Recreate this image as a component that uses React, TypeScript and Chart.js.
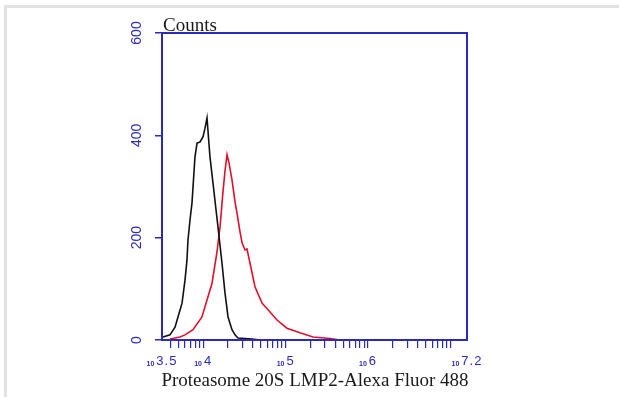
import React, { useEffect, useRef } from "react";
import { Chart, registerables } from "chart.js";

Chart.register(...registerables);

// Fluorescence intensity, as log10 exponents
const blackLogX = [3.512, 3.597, 3.658, 3.694, 3.743, 3.779, 3.803, 3.815, 3.84, 3.864, 3.9, 3.925, 3.961, 3.997, 4.022, 4.046, 4.082, 4.119, 4.179, 4.228, 4.264, 4.301, 4.349, 4.386, 4.422, 4.507, 4.592, 4.69];
const blackCounts = [6, 10, 25, 45, 72, 117, 156, 195, 235, 268, 358, 385, 387, 397, 414, 434, 358, 306, 221, 150, 92, 45, 20, 10, 4, 3, 2, 0];

const redLogX = [3.597, 3.718, 3.779, 3.876, 3.985, 4.046, 4.107, 4.167, 4.204, 4.24, 4.264, 4.289, 4.313, 4.349, 4.386, 4.41, 4.446, 4.471, 4.507, 4.531, 4.568, 4.628, 4.713, 4.786, 4.895, 5.016, 5.174, 5.332, 5.538, 5.66];
const redCounts = [2, 6, 10, 20, 45, 78, 111, 172, 221, 290, 330, 362, 346, 313, 270, 248, 212, 190, 176, 178, 150, 104, 72, 59, 39, 23, 14, 6, 3, 0];

const xLabelExponents = ["3.5", "4", "5", "6", "7.2"];
const yTickValues = [0, 200, 400, 600];
const xMinExp = 3.5;
const xMaxExp = 7.2;

const yTitle = "Counts";
const xTitle = "Proteasome 20S LMP2-Alexa Fluor 488";

const BLUE = "#2b2bb8";

export default function App() {
  const ref = useRef<HTMLCanvasElement | null>(null);

  useEffect(() => {
    document.body.style.margin = "0";
    const canvas = ref.current!;
    const framePlugin = {
      id: "frame",
      beforeDraw(chart: any) {
        const { ctx, width, height } = chart;
        ctx.save();
        ctx.fillStyle = "#ffffff";
        ctx.fillRect(0, 0, width, height);
        ctx.fillStyle = "#e2e2e2";
        ctx.fillRect(4, 5, width - 4, 3);
        ctx.fillRect(4, 5, 3, height - 5);
        ctx.restore();
      },
      afterDraw(chart: any) {
        const { ctx, chartArea } = chart;
        const xs = chart.scales.x;
        const ys = chart.scales.y;
        ctx.save();
        ctx.strokeStyle = BLUE;
        ctx.lineWidth = 2;
        ctx.strokeRect(chartArea.left, chartArea.top, chartArea.right - chartArea.left, chartArea.bottom - chartArea.top);

        // x tick labels: small "10" followed by exponent
        ctx.fillStyle = BLUE;
        ctx.textBaseline = "alphabetic";
        ctx.textAlign = "left";
        const smallFont = "bold 7px 'Liberation Sans', Arial, sans-serif";
        const expFont = "13px 'Liberation Sans', Arial, sans-serif";
        for (const e of xLabelExponents) {
          const px = xs.getPixelForValue(Math.pow(10, parseFloat(e)));
          ctx.font = smallFont;
          const w1 = ctx.measureText("10").width;
          ctx.font = expFont;
          let w2 = 0;
          for (const ch of e) w2 += ctx.measureText(ch).width + 1;
          const gap = 2;
          const start = px - (w1 + gap + w2) / 2;
          ctx.font = smallFont;
          ctx.fillText("10", start, 366);
          ctx.font = expFont;
          let cx = start + w1 + gap;
          for (const ch of e) {
            ctx.fillText(ch, cx, 365);
            cx += ctx.measureText(ch).width + 1;
          }
        }

        // y tick labels rotated
        ctx.font = "14px 'Liberation Sans', Arial, sans-serif";
        ctx.textAlign = "center";
        ctx.textBaseline = "middle";
        for (const v of yTickValues) {
          const py = ys.getPixelForValue(v);
          ctx.save();
          ctx.translate(137.5, py);
          ctx.rotate(-Math.PI / 2);
          ctx.fillText(String(v), 0, 0);
          ctx.restore();
        }

        // titles
        ctx.fillStyle = "#1a1a1a";
        ctx.font = "19px 'Liberation Serif', 'Times New Roman', serif";
        ctx.textAlign = "left";
        ctx.textBaseline = "alphabetic";
        ctx.fillText(yTitle, 163, 31);
        ctx.textAlign = "center";
        ctx.fillText(xTitle, 315, 386);
        ctx.restore();
      },
    };

    const chart = new Chart(canvas, {
      type: "line",
      data: {
        datasets: [
          {
            label: "Control",
            data: blackLogX.map((e, i) => ({ x: Math.pow(10, e), y: blackCounts[i] })),
            borderColor: "#111111",
            borderWidth: 1.6,
            pointRadius: 0,
            tension: 0,
            fill: false,
          },
          {
            label: "Proteasome 20S LMP2",
            data: redLogX.map((e, i) => ({ x: Math.pow(10, e), y: redCounts[i] })),
            borderColor: "#e0102a",
            borderWidth: 1.6,
            pointRadius: 0,
            tension: 0,
            fill: false,
          },
        ],
      },
      options: {
        animation: false,
        responsive: false,
        layout: { padding: { left: 155, right: 152, top: 33, bottom: 49 } },
        plugins: { legend: { display: false }, tooltip: { enabled: false } },
        scales: {
          x: {
            type: "logarithmic",
            min: Math.pow(10, xMinExp),
            max: Math.pow(10, xMaxExp),
            afterBuildTicks(scale: any) {
              const t: any[] = [];
              for (let d = 3; d <= 7; d++) {
                for (let m = 1; m <= 9; m++) {
                  const v = m * Math.pow(10, d);
                  if (v >= scale.min && v <= scale.max) t.push({ value: v });
                }
              }
              scale.ticks = t;
            },
            ticks: { display: false },
            border: { display: false },
            grid: { drawOnChartArea: false, drawTicks: true, tickLength: 8, color: BLUE, lineWidth: 1.2 },
          },
          y: {
            min: 0,
            max: 600,
            afterBuildTicks(scale: any) {
              scale.ticks = yTickValues.map((v) => ({ value: v }));
            },
            ticks: { display: false },
            border: { display: false },
            grid: { drawOnChartArea: false, drawTicks: true, tickLength: 7, color: BLUE, lineWidth: 1.5 },
          },
        },
      },
      plugins: [framePlugin],
    });
    return () => chart.destroy();
  }, []);

  return <canvas ref={ref} width={619} height={397} style={{ display: "block" }} />;
}
